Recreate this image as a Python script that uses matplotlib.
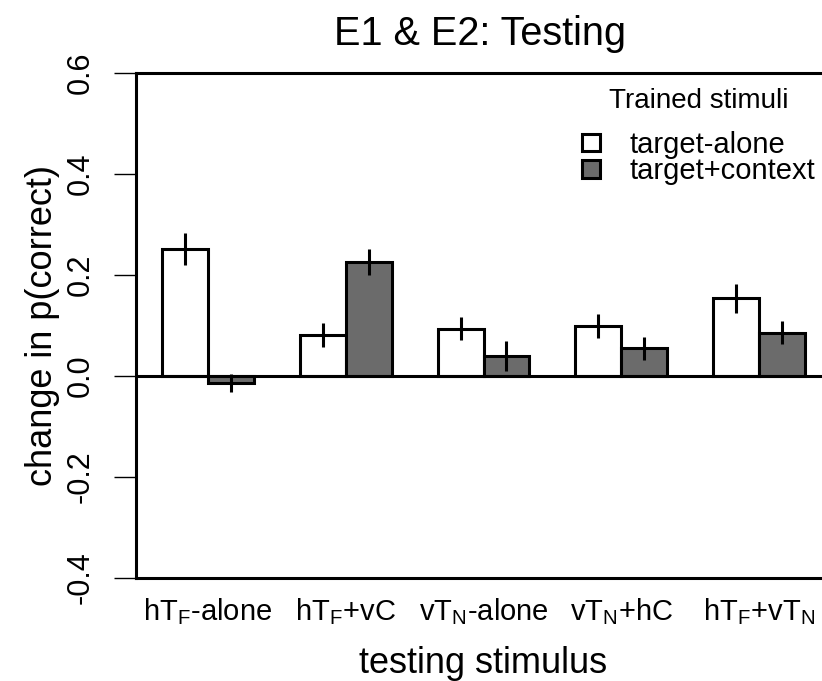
import matplotlib
matplotlib.use("Agg")
import matplotlib.pyplot as plt
import numpy as np
from matplotlib.patches import Patch

plt.rcParams['font.family'] = ['Liberation Sans', 'DejaVu Sans']
plt.rcParams['mathtext.fontset'] = 'custom'
plt.rcParams['mathtext.rm'] = 'Liberation Sans'

categories = [r'hT$_\mathregular{F}$-alone', r'hT$_\mathregular{F}$+vC', r'vT$_\mathregular{N}$-alone',
              r'vT$_\mathregular{N}$+hC', r'hT$_\mathregular{F}$+vT$_\mathregular{N}$']
target_alone = [0.251, 0.081, 0.094, 0.099, 0.154]
target_alone_err = [0.032, 0.023, 0.023, 0.023, 0.029]
target_context = [-0.014, 0.226, 0.040, 0.055, 0.086]
target_context_err = [0.018, 0.026, 0.030, 0.023, 0.022]
yticks = [-0.4, -0.2, 0.0, 0.2, 0.4, 0.6]
ytick_labels = ['-0.4', '-0.2', '0.0', '0.2', '0.4', '0.6']
series_names = ['target-alone', 'target+context']

fig = plt.figure(figsize=(8.22, 6.81), dpi=100)
ax = fig.add_axes([136/822, 1-578/681, (831-136)/822, (578-73)/681])

n = len(categories)
x_white = np.arange(n) * 3 + 1.5
x_gray = x_white + 1.0
gray = '#6b6b6b'
lw = 2.2

ax.bar(x_white, target_alone, width=1.0, color='white', edgecolor='black', linewidth=lw, zorder=2)
ax.bar(x_gray, target_context, width=1.0, color=gray, edgecolor='black', linewidth=lw, zorder=2)
ax.errorbar(x_white, target_alone, yerr=target_alone_err, fmt='none', ecolor='black', elinewidth=lw, capsize=0, zorder=3)
ax.errorbar(x_gray, target_context, yerr=target_context_err, fmt='none', ecolor='black', elinewidth=lw, capsize=0, zorder=3)
ax.axhline(0, color='black', linewidth=lw, zorder=4)

ax.set_xlim(0.44, 15.56)
ax.set_ylim(-0.4, 0.6)
ax.set_yticks(yticks)
ax.set_yticklabels(ytick_labels, rotation=90, va='center', fontsize=22)
ax.set_xticks(x_white + 0.5)
ax.set_xticklabels(categories, fontsize=21)
ax.tick_params(axis='x', length=0, pad=13)
ax.tick_params(axis='y', length=16, width=1.0, pad=13, direction='out')
for s in ax.spines.values():
    s.set_linewidth(lw)

ax.set_ylabel('change in p(correct)', fontsize=26, labelpad=4)
ax.set_xlabel('testing stimulus', fontsize=26, labelpad=14)
fig.text(480/822, 1-45/681, 'E1 & E2: Testing', fontsize=28.5, ha='center', va='baseline')

handles = [Patch(facecolor='white', edgecolor='black', linewidth=2.2),
           Patch(facecolor=gray, edgecolor='black', linewidth=2.2)]
leg = ax.legend(handles, series_names, title='Trained stimuli',
                frameon=False, fontsize=21, title_fontsize=20,
                loc='upper left', bbox_to_anchor=((582-136)/(831-136), (578-88)/505),
                borderpad=0, borderaxespad=0,
                handlelength=0.62, handleheight=0.55, handletextpad=1.0, labelspacing=-0.05)
leg._legend_box.align = 'center'
leg._legend_box.sep = 12

fig.savefig('out.png', dpi=100)
